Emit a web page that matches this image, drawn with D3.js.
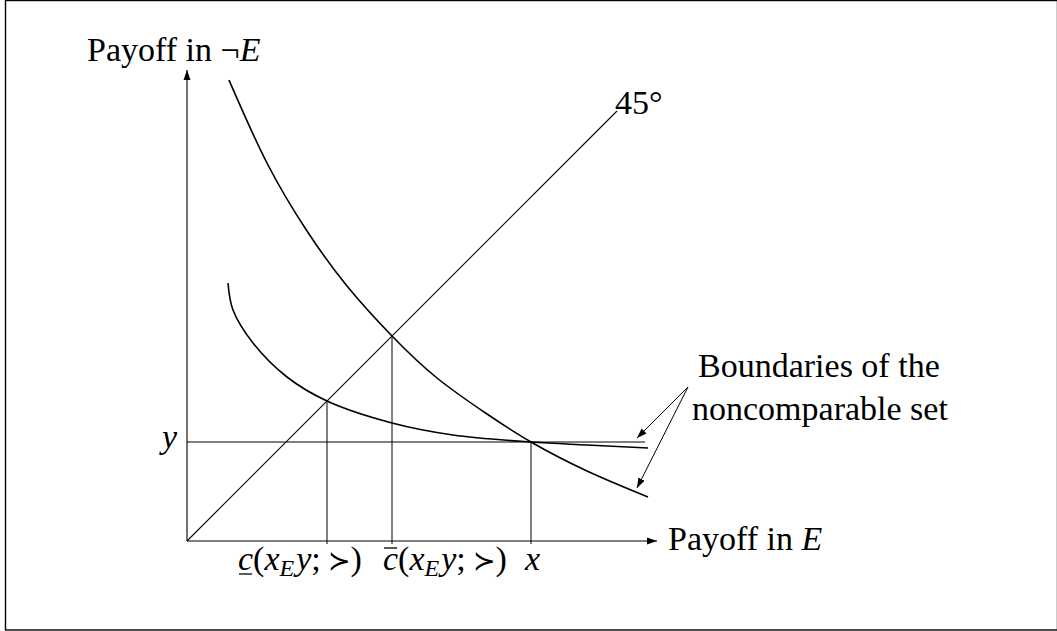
<!DOCTYPE html>
<html>
<head>
<meta charset="utf-8">
<script src="https://cdn.jsdelivr.net/npm/d3@7"></script>
<style>
  html, body { margin: 0; padding: 0; background: #fff; }
  svg { display: block; }
  text { font-family: "Liberation Serif", "Times New Roman", serif; fill: #000; }
</style>
</head>
<body>
<div id="chart"></div>
<script>
// upper boundary of the noncomparable set (payoff in E, payoff in not-E)
var upperX = [4.2, 8.0, 12.0, 16.0, 20.5, 25.0, 30.0, 34.4, 40.0, 46.1];
var upperY = [46.1, 37.8, 31.0, 25.5, 20.5, 16.3, 12.7, 9.9, 7.0, 4.4];

// lower boundary
var lowerX = [4.1, 4.6, 6.6, 10.0, 14.0, 20.5, 26.6, 34.4, 40.0, 46.1];
var lowerY = [25.8, 23.1, 19.8, 16.4, 14.0, 11.8, 10.6, 9.9, 9.6, 9.3];

// the act x_E y and the two certainty equivalents
var pointX = 34.4, pointY = 9.9;
var cLow = 14.0, cHigh = 20.5;
var diagEnd = 43.0;   // 45 degree line runs to here
var yLineEnd = 45.8;

var width = 1057, height = 631;

var svg = d3.select('#chart')
  .append('svg')
    .attr('width', width)
    .attr('height', height);

// frame
svg.append('rect')
  .attr('x', 5.5).attr('y', 0.5)
  .attr('width', 1052).attr('height', 629.5)
  .attr('fill', 'none')
  .attr('stroke', '#000')
  .attr('stroke-width', 1.4);

// scales: 1 unit = 10px
var x = d3.scaleLinear().domain([0, 47]).range([187, 657]);
var y = d3.scaleLinear().domain([0, 47]).range([541, 71]);

var defs = svg.append('defs');
defs.append('marker')
  .attr('id', 'arr')
  .attr('viewBox', '0 0 10 10')
  .attr('refX', 10).attr('refY', 5)
  .attr('markerWidth', 10).attr('markerHeight', 10)
  .attr('markerUnits', 'userSpaceOnUse')
  .attr('orient', 'auto')
  .append('path')
    .attr('d', 'M0,1.5 L10,5 L0,8.5 Z')
    .attr('fill', '#000');

var g = svg.append('g')
  .attr('fill', 'none')
  .attr('stroke', '#000');

// axes
g.append('line')
  .attr('x1', x(0)).attr('y1', y(0))
  .attr('x2', x(0)).attr('y2', y(47.1))
  .attr('stroke-width', 1.1)
  .attr('marker-end', 'url(#arr)');
g.append('line')
  .attr('x1', x(0)).attr('y1', y(0))
  .attr('x2', x(47)).attr('y2', y(0))
  .attr('stroke-width', 1.1)
  .attr('marker-end', 'url(#arr)');

// 45 degree line
g.append('line')
  .attr('x1', x(0)).attr('y1', y(0))
  .attr('x2', x(diagEnd)).attr('y2', y(diagEnd))
  .attr('stroke-width', 1.1);

// horizontal at y
g.append('line')
  .attr('x1', x(0)).attr('y1', y(pointY))
  .attr('x2', x(yLineEnd)).attr('y2', y(pointY))
  .attr('stroke-width', 1);

// verticals
[[cLow, cLow], [cHigh, cHigh], [pointX, pointY]].forEach(function(d)
{
  g.append('line')
    .attr('x1', x(d[0])).attr('y1', y(d[1]))
    .attr('x2', x(d[0])).attr('y2', y(0) + 3)
    .attr('stroke-width', 1);
});

// curves
var line = d3.line()
  .x(function(d) { return x(d[0]); })
  .y(function(d) { return y(d[1]); });

g.append('path')
  .attr('d', line.curve(d3.curveNatural)(d3.zip(upperX, upperY)))
  .attr('stroke-width', 1.6);
g.append('path')
  .attr('d', line.curve(d3.curveCatmullRom)(d3.zip(lowerX, lowerY)))
  .attr('stroke-width', 1.6);

// pointer arrows
var arrowFrom = [688, 387];
[[637, 438], [637, 488]].forEach(function(p)
{
  g.append('line')
    .attr('x1', arrowFrom[0]).attr('y1', arrowFrom[1])
    .attr('x2', p[0]).attr('y2', p[1])
    .attr('stroke-width', 1)
    .attr('marker-end', 'url(#arr)');
});

// text
var fs = 34;

var t1 = svg.append('text').attr('x', 87).attr('y', 61).style('font-size', fs + 'px');
t1.append('tspan').text('Payoff in ');
t1.append('tspan').text('\u00AC');
t1.append('tspan').style('font-style', 'italic').text('E');

var t2 = svg.append('text').attr('x', 668).attr('y', 550).style('font-size', fs + 'px');
t2.append('tspan').text('Payoff in ');
t2.append('tspan').style('font-style', 'italic').text('E');

svg.append('text').attr('x', 615).attr('y', 114).style('font-size', fs + 'px').text('45\u00B0');

svg.append('text').attr('x', 162).attr('y', 448)
  .style('font-size', fs + 'px').style('font-style', 'italic').text('y');

svg.append('text').attr('x', 698).attr('y', 377).style('font-size', fs + 'px').text('Boundaries of the');
svg.append('text').attr('x', 692).attr('y', 420).style('font-size', fs + 'px').text('noncomparable set');

// certainty-equivalent labels
function ceLabel(x0, mark)
{
  var t = svg.append('text').attr('x', x0).attr('y', 570).style('font-size', fs + 'px');
  t.append('tspan').style('font-style', 'italic').text('c');
  t.append('tspan').text('(');
  t.append('tspan').style('font-style', 'italic').text('x');
  t.append('tspan').style('font-style', 'italic').style('font-size', '24px').attr('dy', 6).text('E');
  t.append('tspan').style('font-style', 'italic').attr('dy', -6).attr('dx', 2).text('y');
  t.append('tspan').text(';\u2009');
  t.append('tspan').style('font-family', '"DejaVu Serif", serif').style('font-size', '27px').text('\u227B');
  t.append('tspan').text(')');

  var ext = t.node().getExtentOfChar(0);
  var ly = mark === 'under' ? 574 : 548;
  svg.append('line')
    .attr('x1', ext.x + 1).attr('x2', ext.x + ext.width - 1)
    .attr('y1', ly).attr('y2', ly)
    .attr('stroke', '#000').attr('stroke-width', 1.3);
}
ceLabel(238, 'under');
ceLabel(383, 'over');

svg.append('text').attr('x', 525).attr('y', 570)
  .style('font-size', fs + 'px').style('font-style', 'italic').text('x');
</script>
</body>
</html>
